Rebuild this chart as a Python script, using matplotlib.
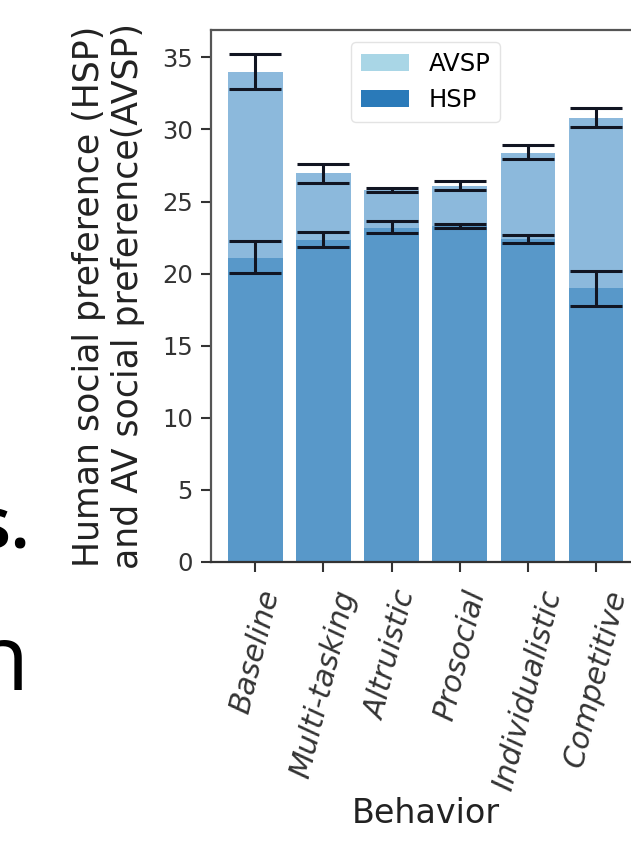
import numpy as np
import matplotlib
matplotlib.use("Agg")
import matplotlib.pyplot as plt
from matplotlib.patches import Patch

# values
behaviors = ['Baseline', 'Multi-tasking', 'Altruistic', 'Prosocial',
             'Individualistic', 'Competitive']
hsp = [21.1, 22.3, 23.2, 23.3, 22.4, 19.0]
hsp_lo = [20.05, 21.85, 22.82, 23.17, 22.13, 17.78]
hsp_hi = [22.24, 22.87, 23.63, 23.45, 22.70, 20.20]
avsp = [34.0, 27.0, 25.8, 26.1, 28.4, 30.8]
avsp_lo = [32.80, 26.30, 25.65, 25.83, 27.92, 30.16]
avsp_hi = [35.25, 27.60, 25.95, 26.41, 28.91, 31.46]

x = np.arange(len(behaviors))
hsp = np.array(hsp)
avsp = np.array(avsp)
hsp_err = [hsp - np.array(hsp_lo), np.array(hsp_hi) - hsp]
avsp_err = [avsp - np.array(avsp_lo), np.array(avsp_hi) - avsp]

fig = plt.figure(figsize=(6.31, 8.47), dpi=100)
ax = fig.add_axes([0.3344, 0.3365, 0.680, 0.6281])

ax.bar(x, avsp, width=0.8, color='#8cb9dc')
ax.bar(x, hsp, width=0.8, color='#5898c9')
err_style = dict(fmt='none', ecolor='#111522', elinewidth=2.2,
                 capsize=19, capthick=2.2)
ax.errorbar(x, avsp, yerr=avsp_err, **err_style)
ax.errorbar(x, hsp, yerr=hsp_err, **err_style)

ax.set_xlim(-0.652, 5.65)
ax.set_ylim(0, 36.9)
ax.set_yticks([0, 5, 10, 15, 20, 25, 30, 35])
ax.set_xticks(x)
ax.set_xticklabels(behaviors, rotation=76, ha='center', fontsize=21.5,
                   style='italic', color='#222222')
ax.tick_params(axis='y', labelsize=17.5, length=7, width=1.5, pad=6,
               colors='#333333')
ax.tick_params(axis='x', length=7, width=1.5, pad=11, colors='#333333')
for s in ax.spines.values():
    s.set_linewidth(1.6)
    s.set_color('#555555')
ax.spines['bottom'].set_color('#333333')

ax.set_ylabel('Human social preference (HSP)\nand AV social preference(AVSP)',
              fontsize=25, color='#222222', labelpad=12)
ax.set_xlabel('Behavior', fontsize=24, color='#222222', labelpad=3)

handles = [Patch(facecolor='#a9d6e6', label='AVSP'),
           Patch(facecolor='#2a7ab9', label='HSP')]
ax.legend(handles=handles, loc='upper center', fontsize=17.5,
          framealpha=0.8, edgecolor='#dddddd')

# fragments of the surrounding page text
fig.text(0.048, 0.353, 's.', ha='right', va='baseline', fontsize=52,
         family='Open Sans', weight='semibold', color='black')
fig.text(0.045, 0.185, 'n', ha='right', va='baseline', fontsize=66,
         family='Open Sans', color='black')

fig.savefig('out.png', dpi=100)
